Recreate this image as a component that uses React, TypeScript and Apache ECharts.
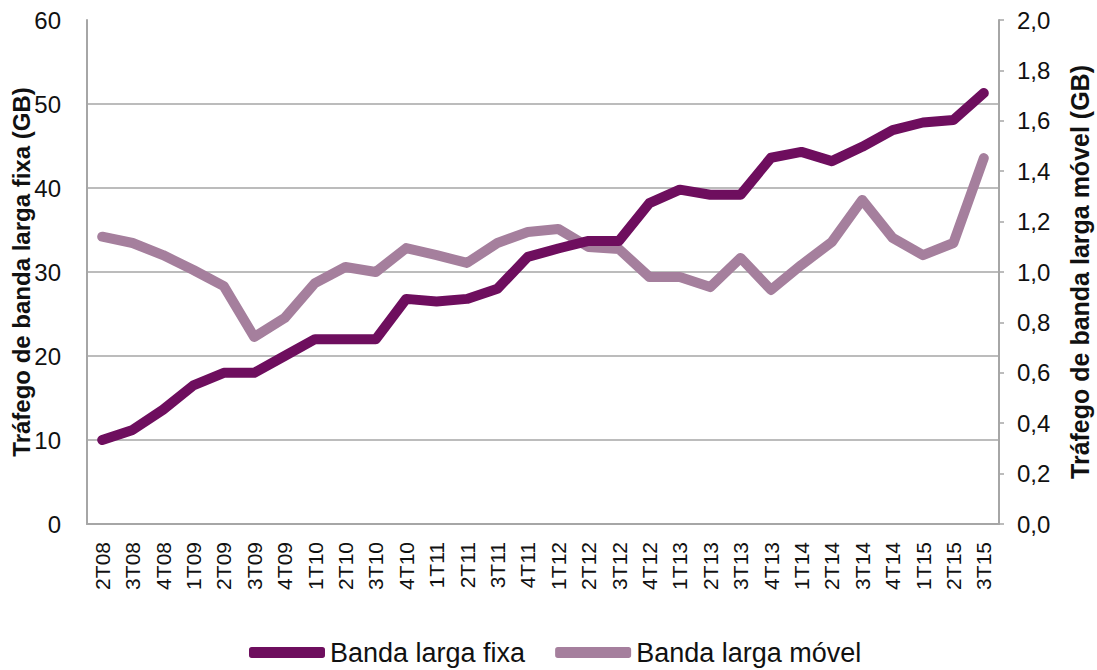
import React, { useEffect, useRef } from "react";
import * as echarts from "echarts";

const categories = [
  "2T08", "3T08", "4T08", "1T09", "2T09", "3T09", "4T09", "1T10", "2T10", "3T10",
  "4T10", "1T11", "2T11", "3T11", "4T11", "1T12", "2T12", "3T12", "4T12", "1T13",
  "2T13", "3T13", "4T13", "1T14", "2T14", "3T14", "4T14", "1T15", "2T15", "3T15",
];

const fixa = [
  10.0, 11.2, 13.6, 16.5, 18.0, 18.0, 20.0, 22.0, 22.0, 22.0,
  26.8, 26.5, 26.8, 28.0, 31.8, 32.8, 33.7, 33.7, 38.2, 39.8,
  39.2, 39.2, 43.6, 44.3, 43.2, 44.9, 46.9, 47.8, 48.1, 51.3,
];

const movel = [
  1.14, 1.115, 1.067, 1.008, 0.944, 0.742, 0.817, 0.956, 1.02, 1.0,
  1.095, 1.067, 1.036, 1.115, 1.159, 1.171, 1.099, 1.091, 0.98, 0.98,
  0.94, 1.056, 0.929, 1.028, 1.119, 1.286, 1.135, 1.067, 1.115, 1.452,
];

const leftName = "Tráfego de banda larga fixa (GB)";
const rightName = "Tráfego de banda larga móvel (GB)";
const seriesNames = ["Banda larga fixa", "Banda larga móvel"];

const FONT = "'Liberation Sans', Arial, sans-serif";
const GRID = "#a6a6a6";

export default function App() {
  const ref = useRef<HTMLDivElement>(null);
  useEffect(() => {
    if (!ref.current) return;
    const chart = echarts.init(ref.current, null, { renderer: "svg" });
    chart.setOption({
      animation: false,
      textStyle: { fontFamily: FONT },
      grid: { left: 87, right: 98, top: 20, bottom: 146, outerBoundsMode: "none", containLabel: false },
      legend: {
        top: 634,
        left: 244,
        itemWidth: 76,
        itemHeight: 11,
        itemGap: 30,
        icon: "roundRect",
        textStyle: { fontSize: 27, color: "#111", fontFamily: FONT },
        data: seriesNames,
      },
      xAxis: {
        type: "category",
        data: categories,
        boundaryGap: true,
        axisLine: { lineStyle: { color: GRID, width: 2 } },
        axisTick: { show: false },
        axisLabel: { rotate: 90, fontSize: 21, color: "#111", margin: 18, interval: 0 },
      },
      yAxis: [
        {
          type: "value",
          min: 0,
          max: 60,
          interval: 10,
          name: leftName,
          nameLocation: "middle",
          nameGap: 54,
          nameMoveOverlap: false,
          nameTextStyle: { fontSize: 24, fontWeight: "bold", color: "#111" },
          axisLine: { show: true, lineStyle: { color: GRID, width: 2 } },
          axisTick: { show: false },
          axisLabel: { fontSize: 24, color: "#111", margin: 26 },
          splitLine: {
            show: true,
            lineStyle: { color: [GRID, GRID, GRID, GRID, GRID, GRID, "transparent"], width: 1.5 },
          },
        },
        {
          type: "value",
          min: 0,
          max: 2,
          interval: 0.2,
          name: rightName,
          nameLocation: "middle",
          nameGap: 68,
          nameMoveOverlap: false,
          nameRotate: 90,
          nameTextStyle: { fontSize: 25, fontWeight: "bold", color: "#111" },
          axisLine: { show: true, lineStyle: { color: GRID, width: 2 } },
          axisTick: { show: true, length: 5, lineStyle: { color: GRID, width: 1.5 } },
          axisLabel: {
            fontSize: 24,
            color: "#111",
            margin: 18,
            formatter: (v: number) => v.toFixed(1).replace(".", ","),
          },
          splitLine: { show: false },
        },
      ],
      series: [
        {
          name: seriesNames[0],
          type: "line",
          yAxisIndex: 0,
          data: fixa,
          symbol: "none",
          lineStyle: { color: "#6e0e5e", width: 10, cap: "round", join: "round" },
          itemStyle: { color: "#6e0e5e" },
          z: 3,
        },
        {
          name: seriesNames[1],
          type: "line",
          yAxisIndex: 1,
          data: movel,
          symbol: "none",
          lineStyle: { color: "#a57f9d", width: 10, cap: "round", join: "round" },
          itemStyle: { color: "#a57f9d" },
          z: 2,
        },
      ],
    });
    return () => chart.dispose();
  }, []);
  return <div ref={ref} style={{ width: 1097, height: 670, position: "absolute", left: 0, top: 0 }} />;
}
